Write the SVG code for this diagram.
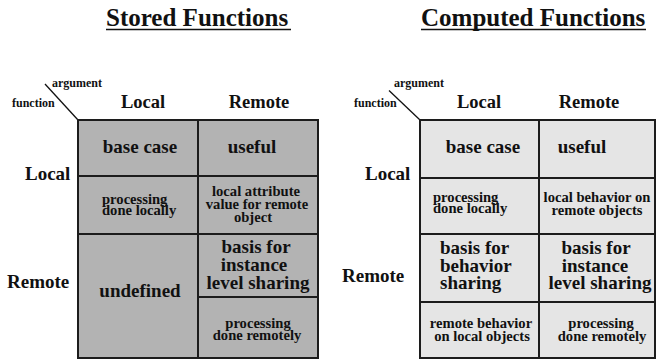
<svg xmlns="http://www.w3.org/2000/svg" width="656" height="360" viewBox="0 0 656 360">
<style>
.t{font-family:'Liberation Serif','Tinos','Times New Roman','Nimbus Roman','Nimbus Roman No9 L','DejaVu Serif',serif;font-weight:bold;fill:#111}
.title{font-size:25px}
.big{font-size:19px}
.hd{font-size:18.5px}
.sm{font-size:14.6px}
.xs{font-size:12px}
.c{text-anchor:middle}
.ul{stroke:#111;stroke-width:1.7}
.cellA{fill:#b3b3b3;stroke:#1c1c1c;stroke-width:2}
.cellB{fill:#e5e5e5;stroke:#1c1c1c;stroke-width:2}
.diag{stroke:#111;stroke-width:1.3;fill:none}
</style>
<rect width="656" height="360" fill="#fff"/>
<g font-family="Liberation Serif, DejaVu Serif, serif">
<g id="title-stored">
<text class="t title" x="106" y="26">Stored Functions</text>
<line class="ul" x1="106" y1="29.5" x2="291" y2="29.5"/>
</g>
<g id="title-computed">
<text class="t title" x="421" y="26">Computed Functions</text>
<line class="ul" x1="421" y1="29.5" x2="646" y2="29.5"/>
</g>

<g id="connectors">
<line class="diag" x1="45" y1="84" x2="78" y2="120"/>
<line class="diag" x1="389" y1="90.5" x2="420" y2="120"/>
</g>

<g id="stored-labels">
<text class="t xs" x="52" y="87">argument</text>
<text class="t xs" x="12" y="107">function</text>
<text class="t hd c" x="143" y="108">Local</text>
<text class="t hd c" x="259" y="108">Remote</text>
<text class="t big" x="25" y="180">Local</text>
<text class="t big" x="7" y="288">Remote</text>
</g>

<g id="stored-local-local">
<rect class="cellA" x="78" y="120" width="120" height="56"/>
<text class="t big c" x="140" y="153">base case</text>
</g>
<g id="stored-local-remote">
<rect class="cellA" x="198" y="120" width="120" height="56"/>
<text class="t big c" x="252" y="153">useful</text>
</g>
<g id="stored-local-processing">
<rect class="cellA" x="78" y="176" width="120" height="58"/>
<text class="t sm" x="102" y="204">processing</text>
<text class="t sm" x="102" y="215">done locally</text>
</g>
<g id="stored-local-attribute">
<rect class="cellA" x="198" y="176" width="120" height="58"/>
<text class="t sm c" x="256" y="196">local attribute</text>
<text class="t sm c" x="257" y="209">value for remote</text>
<text class="t sm c" x="253" y="222">object</text>
</g>
<g id="stored-remote-undefined">
<rect class="cellA" x="78" y="234" width="120" height="124"/>
<text class="t big c" x="140" y="297">undefined</text>
</g>
<g id="stored-remote-basis">
<rect class="cellA" x="198" y="234" width="120" height="63"/>
<text class="t big c" x="256" y="253">basis for</text>
<text class="t big c" x="254" y="271">instance</text>
<text class="t big c" x="258" y="289">level sharing</text>
</g>
<g id="stored-remote-processing">
<rect class="cellA" x="198" y="297" width="120" height="61"/>
<text class="t sm c" x="258" y="328">processing</text>
<text class="t sm c" x="257" y="340">done remotely</text>
</g>

<g id="computed-labels">
<text class="t xs" x="394" y="87">argument</text>
<text class="t xs" x="354" y="107">function</text>
<text class="t hd c" x="479" y="108">Local</text>
<text class="t hd c" x="589" y="108">Remote</text>
<text class="t big" x="365" y="180">Local</text>
<text class="t big" x="342" y="282">Remote</text>
</g>

<g id="computed-local-local">
<rect class="cellB" x="420" y="120" width="119" height="58"/>
<text class="t big c" x="483" y="153">base case</text>
</g>
<g id="computed-local-remote">
<rect class="cellB" x="539" y="120" width="116" height="58"/>
<text class="t big c" x="582" y="153">useful</text>
</g>
<g id="computed-local-processing">
<rect class="cellB" x="420" y="178" width="119" height="56"/>
<text class="t sm" x="433" y="202">processing</text>
<text class="t sm" x="433" y="213">done locally</text>
</g>
<g id="computed-local-behavior">
<rect class="cellB" x="539" y="178" width="116" height="56"/>
<text class="t sm c" x="597" y="202">local behavior on</text>
<text class="t sm c" x="597" y="215">remote objects</text>
</g>
<g id="computed-remote-basis-behavior">
<rect class="cellB" x="420" y="234" width="119" height="68"/>
<text class="t big" x="440" y="254">basis for</text>
<text class="t big" x="440" y="272">behavior</text>
<text class="t big" x="440" y="289">sharing</text>
</g>
<g id="computed-remote-basis-instance">
<rect class="cellB" x="539" y="234" width="116" height="68"/>
<text class="t big c" x="596" y="254">basis for</text>
<text class="t big c" x="595" y="272">instance</text>
<text class="t big c" x="600" y="289">level sharing</text>
</g>
<g id="computed-remote-behavior">
<rect class="cellB" x="420" y="302" width="119" height="56"/>
<text class="t sm c" x="481" y="328">remote behavior</text>
<text class="t sm c" x="482" y="341">on local objects</text>
</g>
<g id="computed-remote-processing">
<rect class="cellB" x="539" y="302" width="116" height="56"/>
<text class="t sm c" x="601" y="328">processing</text>
<text class="t sm c" x="602" y="341">done remotely</text>
</g>
</g>
</svg>
